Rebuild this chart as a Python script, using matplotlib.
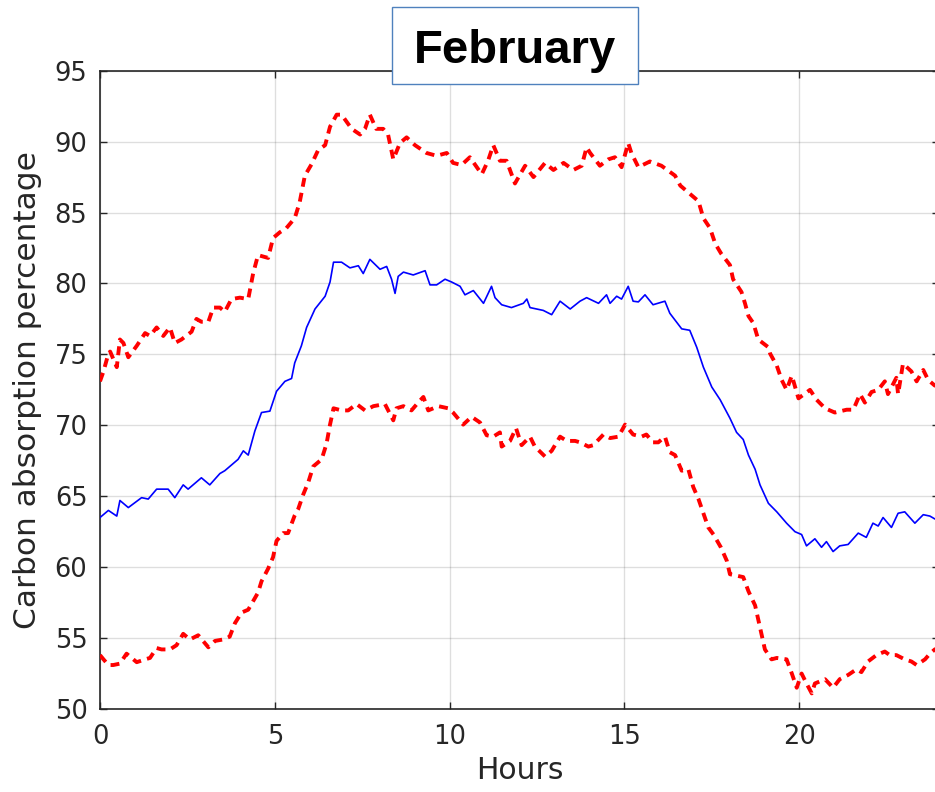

# Carbon absorption percentage over one day - February
import numpy as np
import matplotlib.pyplot as plt
from matplotlib.patches import Rectangle

# %%
# Values (hours, percent)
# mean curve (solid blue)
hours_mean = [0, 0.24, 0.48, 0.57, 0.81, 1.19, 1.38, 1.62, 1.95, 2.14,
              2.38, 2.52, 2.71, 2.9, 3.14, 3.43, 3.57, 3.76, 3.95, 4.1,
              4.24, 4.43, 4.62, 4.86, 5.05, 5.29, 5.48, 5.57, 5.76, 5.91,
              6.15, 6.44, 6.58, 6.68, 6.91, 7.15, 7.39, 7.53, 7.72, 8.01,
              8.2, 8.34, 8.44, 8.53, 8.68, 8.96, 9.3, 9.44, 9.63, 9.87,
              10.06, 10.3, 10.44, 10.68, 10.97, 11.2, 11.3, 11.49, 11.77, 12.11,
              12.21, 12.3, 12.68, 12.92, 13.16, 13.45, 13.73, 13.92, 14.26, 14.49,
              14.59, 14.78, 14.92, 15.11, 15.25, 15.4, 15.59, 15.82, 16.16, 16.3,
              16.64, 16.87, 17.07, 17.26, 17.5, 17.74, 18.02, 18.21, 18.4, 18.55,
              18.74, 18.88, 19.12, 19.36, 19.64, 19.88, 20.07, 20.21, 20.45, 20.64,
              20.78, 20.97, 21.16, 21.4, 21.69, 21.92, 22.11, 22.26, 22.4, 22.64,
              22.83, 23.02, 23.31, 23.55, 23.74, 23.88, 24]
mean_vals = [63.5, 64.0, 63.6, 64.7, 64.2, 64.9, 64.8, 65.5, 65.5, 64.9,
             65.8, 65.5, 65.9, 66.3, 65.8, 66.6, 66.8, 67.2, 67.6, 68.2,
             67.9, 69.6, 70.9, 71.0, 72.4, 73.1, 73.3, 74.4, 75.6, 76.9,
             78.2, 79.1, 80.1, 81.5, 81.5, 81.1, 81.25, 80.7, 81.7, 81.0,
             81.2, 80.3, 79.3, 80.5, 80.8, 80.6, 80.9, 79.9, 79.9, 80.3,
             80.1, 79.8, 79.2, 79.5, 78.6, 79.8, 79.0, 78.5, 78.3, 78.6,
             78.9, 78.3, 78.1, 77.8, 78.75, 78.2, 78.75, 79.0, 78.6, 79.2,
             78.6, 79.1, 78.9, 79.8, 78.75, 78.7, 79.2, 78.5, 78.75, 77.9,
             76.8, 76.7, 75.5, 74.1, 72.7, 71.8, 70.5, 69.5, 69.0, 67.9,
             66.9, 65.8, 64.5, 63.9, 63.1, 62.5, 62.3, 61.5, 62.0, 61.4,
             61.8, 61.1, 61.5, 61.6, 62.4, 62.1, 63.1, 62.9, 63.5, 62.8,
             63.8, 63.9, 63.1, 63.7, 63.6, 63.4, 63.4]

# upper bound (red dashed)
hours_upper = [0, 0.1, 0.24, 0.29, 0.48, 0.57, 0.67, 0.81, 1.05, 1.29,
               1.43, 1.62, 1.81, 2.0, 2.14, 2.33, 2.62, 2.76, 2.9, 3.1,
               3.24, 3.43, 3.57, 3.76, 4.0, 4.24, 4.38, 4.52, 4.81, 4.95,
               5.14, 5.33, 5.57, 5.71, 5.86, 6.05, 6.24, 6.44, 6.58, 6.77,
               6.91, 7.2, 7.44, 7.58, 7.72, 7.9, 8.1, 8.24, 8.39, 8.58,
               8.77, 9.01, 9.34, 9.63, 9.92, 10.1, 10.34, 10.58, 10.92, 11.1,
               11.25, 11.44, 11.63, 11.87, 12.16, 12.4, 12.73, 12.97, 13.26, 13.54,
               13.78, 13.92, 14.02, 14.3, 14.54, 14.73, 14.92, 15.11, 15.2, 15.4,
               15.73, 16.06, 16.45, 16.6, 16.93, 17.12, 17.26, 17.45, 17.6, 17.77,
               18.02, 18.11, 18.35, 18.45, 18.55, 18.69, 18.83, 19.12, 19.17, 19.36,
               19.5, 19.64, 19.79, 19.98, 20.31, 20.5, 20.74, 21.02, 21.36, 21.55,
               21.74, 21.88, 22.07, 22.26, 22.45, 22.54, 22.78, 22.83, 22.97, 23.21,
               23.36, 23.55, 23.69, 23.88, 24]
upper_vals = [73.1, 73.8, 75.05, 75.2, 74.1, 76.05, 75.8, 74.8, 75.6, 76.5,
              76.3, 76.9, 76.3, 76.9, 75.8, 76.05, 76.6, 77.5, 77.3, 77.3,
              78.3, 78.3, 78.0, 78.9, 79.0, 78.9, 80.7, 82.0, 81.8, 83.2,
              83.6, 83.9, 84.6, 85.7, 87.6, 88.4, 89.4, 89.75, 91.05, 91.9,
              91.9, 90.9, 90.5, 90.9, 91.9, 90.9, 90.9, 90.5, 88.75, 89.9,
              90.3, 89.75, 89.2, 89.0, 89.2, 88.5, 88.35, 88.9, 87.7, 88.65,
              89.75, 88.65, 88.65, 87.05, 88.3, 87.5, 88.5, 88.0, 88.5, 88.0,
              88.3, 89.6, 89.2, 88.3, 88.75, 88.9, 88.2, 89.9, 89.2, 88.2,
              88.6, 88.3, 87.6, 86.9, 86.2, 85.8, 84.6, 83.9, 82.8, 82.1,
              81.3, 80.3, 79.4, 78.6, 77.7, 77.2, 76.05, 75.5, 75.05, 74.2,
              73.2, 72.5, 73.5, 71.9, 72.5, 71.8, 71.2, 70.9, 71.1, 71.1,
              72.2, 71.6, 72.35, 72.5, 73.1, 72.2, 73.35, 72.2, 74.35, 73.8,
              73.1, 73.9, 73.2, 72.8, 72.9]

# lower bound (red dashed)
hours_lower = [0, 0.1, 0.24, 0.38, 0.57, 0.76, 1.05, 1.29, 1.43, 1.62,
               1.76, 2.0, 2.19, 2.38, 2.57, 2.81, 3.1, 3.29, 3.52, 3.71,
               3.86, 4.05, 4.24, 4.38, 4.52, 4.62, 4.81, 4.95, 5.05, 5.24,
               5.38, 5.57, 5.67, 5.81, 5.96, 6.1, 6.34, 6.48, 6.58, 6.68,
               6.91, 7.1, 7.34, 7.58, 7.82, 8.15, 8.39, 8.48, 8.68, 8.91,
               9.1, 9.25, 9.39, 9.68, 9.96, 10.1, 10.39, 10.63, 10.87, 11.06,
               11.25, 11.44, 11.49, 11.73, 11.9, 12.06, 12.3, 12.44, 12.73, 12.92,
               13.16, 13.35, 13.59, 13.73, 13.97, 14.11, 14.4, 14.59, 14.83, 15.02,
               15.25, 15.49, 15.63, 15.82, 15.97, 16.16, 16.3, 16.45, 16.64, 16.83,
               16.97, 17.12, 17.26, 17.4, 17.55, 17.76, 17.93, 18.02, 18.4, 18.55,
               18.74, 18.83, 18.93, 19.02, 19.21, 19.36, 19.64, 19.79, 19.93, 20.07,
               20.21, 20.36, 20.45, 20.74, 20.97, 21.16, 21.4, 21.64, 21.78, 21.97,
               22.21, 22.45, 22.59, 22.78, 23.02, 23.21, 23.36, 23.6, 23.74, 23.88,
               24]
lower_vals = [53.8, 53.5, 53.1, 53.1, 53.2, 53.9, 53.3, 53.5, 53.6, 54.3,
              54.2, 54.2, 54.5, 55.3, 54.9, 55.2, 54.35, 54.8, 54.9, 55.1,
              56.05, 56.8, 57.0, 57.6, 58.2, 59.0, 59.9, 60.7, 61.85, 62.4,
              62.4, 63.65, 64.1, 65.1, 66.0, 67.1, 67.6, 68.7, 70.05, 71.2,
              71.05, 71.05, 71.5, 71.05, 71.35, 71.5, 70.35, 71.2, 71.35, 71.05,
              71.6, 72.0, 71.05, 71.35, 71.2, 70.9, 70.05, 70.6, 70.2, 69.3,
              69.2, 69.5, 68.5, 68.9, 69.8, 68.6, 69.2, 68.5, 67.8, 68.2,
              69.2, 68.9, 68.9, 68.8, 68.5, 68.6, 69.35, 69.1, 69.2, 70.05,
              69.35, 69.2, 69.35, 68.8, 68.8, 69.2, 68.1, 67.9, 66.8, 66.9,
              65.65, 64.8, 63.8, 62.8, 62.3, 61.4, 60.45, 59.5, 59.3, 58.3,
              57.3, 56.3, 55.2, 54.2, 53.5, 53.6, 53.5, 52.5, 51.5, 52.5,
              51.8, 51.1, 51.8, 52.1, 51.5, 52.1, 52.4, 52.8, 52.6, 53.35,
              53.8, 54.05, 53.8, 53.8, 53.5, 53.35, 53.1, 53.5, 53.9, 54.2,
              54.3]

x_ticks = [0, 5, 10, 15, 20]
y_ticks = [50, 55, 60, 65, 70, 75, 80, 85, 90, 95]

# %%
# MATLAB-ish look
dark = '#262626'
plt.rcParams['font.family'] = 'DejaVu Sans'

fig = plt.figure(figsize=(9.35, 7.92), dpi=100)
# right edge of the box runs just past the picture, as in the original
ax = fig.add_axes([100/935, 83/792, 839/935, 638.3/792])

dash = (0, (2.3, 1.6))
ax.plot(hours_upper, upper_vals, color='#ff0000', lw=2.8, linestyle=dash,
        zorder=3)
ax.plot(hours_mean, mean_vals, color='#0000ff', lw=1.2, zorder=4)
ax.plot(hours_lower, lower_vals, color='#ff0000', lw=2.8, linestyle=dash,
        zorder=3)

ax.set_xlim(0, 24)
ax.set_ylim(50, 95)
ax.set_xticks(x_ticks)
ax.set_yticks(y_ticks)
ax.grid(True, color=dark, alpha=0.15, lw=1.0)
ax.set_axisbelow(True)

ax.tick_params(direction='in', length=5, width=1, colors=dark,
               labelsize=18.5, top=True, right=True)
ax.tick_params(axis='x', pad=11)
ax.tick_params(axis='y', pad=9)
for s in ax.spines.values():
    s.set_color(dark)
    s.set_linewidth(1.2)

ax.set_xlabel('Hours', fontsize=21.5, color=dark, labelpad=4)
ax.set_ylabel('Carbon absorption percentage', fontsize=22.5, color=dark,
              labelpad=9)

# boxed title sitting over the top edge of the axes
fig.patches.append(Rectangle((392/935, 1 - 84/792), 246/935, 77/792,
                             transform=fig.transFigure, facecolor='white',
                             edgecolor='#4f81bd', lw=1.0, zorder=5))
fig.text(515/935, 1 - 63/792, 'February', ha='center', va='baseline',
         fontsize=34, fontweight='bold', family='Liberation Sans',
         color='black', zorder=6)

fig.savefig('out.png', dpi=100)
